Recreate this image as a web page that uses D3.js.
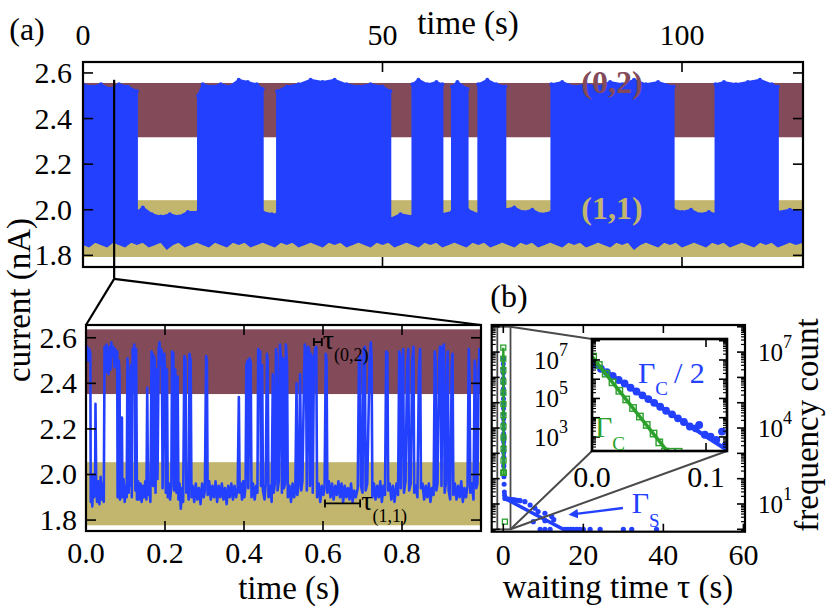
<!DOCTYPE html>
<html>
<head>
<meta charset="utf-8">
<script src="https://cdn.jsdelivr.net/npm/d3@7"></script>
<style>
  body { margin: 0; background: #fff; }
  svg text { font-family: "Liberation Serif", "Times New Roman", "DejaVu Serif", serif; }
</style>
</head>
<body>
<script>
// ---------- (a) top: 2 minutes of current, drawn as its envelope [t (s), I (nA)] ----------
var traceTopUpper = [
  [0.0, 2.55], [1.5, 2.54], [3, 2.55], [4.5, 2.53], [6, 2.55], [7.5, 2.54], [9.0, 2.52],
  [9.0, 1.99], [10, 2.01], [11.5, 1.98], [13, 1.97], [14.5, 1.98], [16, 1.97], [17.5, 1.99], [19.2, 1.99],
  [19.2, 2.50], [20, 2.55], [21.5, 2.54], [23, 2.55], [24.5, 2.54], [26, 2.57], [27.5, 2.56], [29, 2.55], [30.0, 2.53],
  [30.0, 1.99], [31.5, 1.98], [32.4, 1.98],
  [32.4, 2.52], [34, 2.54], [36, 2.55], [38, 2.57], [40, 2.56], [42, 2.57], [44, 2.55], [46, 2.54], [48, 2.55], [50, 2.54], [51.3, 2.52],
  [51.3, 1.96], [53, 1.98], [55.0, 1.97],
  [55.0, 2.55], [56, 2.57], [57.5, 2.55], [59, 2.56], [60.0, 2.55],
  [60.0, 1.98], [61.6, 1.99],
  [61.6, 2.54], [62.5, 2.56], [64.2, 2.53],
  [64.2, 2.00], [66.0, 1.98],
  [66.0, 2.55], [67.5, 2.57], [69, 2.55], [70.5, 2.54],
  [70.5, 2.00], [72, 2.01], [73.5, 1.99], [75, 2.00], [76.5, 1.98], [78.2, 1.99],
  [78.2, 2.55], [80, 2.56], [82, 2.54], [84, 2.55], [86, 2.54], [88, 2.56], [90, 2.55], [92, 2.57], [94, 2.55], [96, 2.56], [98.6, 2.54],
  [98.6, 2.00], [100, 1.99], [101.5, 2.00], [103, 1.98], [104.5, 1.99], [105.6, 1.98],
  [105.6, 2.55], [107, 2.56], [109, 2.55], [111, 2.56], [113, 2.57], [115, 2.55], [116.0, 2.54],
  [116.0, 1.99], [118, 2.00], [120.2, 1.99]
];
var traceTopLower = [
  [0, 1.85], [1, 1.84], [2, 1.86], [3, 1.85], [4, 1.84], [5, 1.86], [6, 1.85], [7, 1.84], [8, 1.86], [9, 1.85],
  [10, 1.86], [11, 1.84], [12, 1.85], [13, 1.86], [14, 1.83], [15, 1.85], [16, 1.86], [17, 1.84], [18, 1.85], [19, 1.86],
  [20, 1.85], [21, 1.84], [22, 1.86], [23, 1.85], [24, 1.84], [25, 1.86], [26, 1.85], [27, 1.86], [28, 1.84], [29, 1.85],
  [30, 1.86], [31, 1.85], [32, 1.84], [33, 1.86], [34, 1.85], [35, 1.86], [36, 1.84], [37, 1.85], [38, 1.86], [39, 1.85],
  [40, 1.84], [41, 1.86], [42, 1.85], [43, 1.86], [44, 1.84], [45, 1.85], [46, 1.86], [47, 1.85], [48, 1.84], [49, 1.86],
  [50, 1.85], [51, 1.86], [52, 1.84], [53, 1.85], [54, 1.86], [55, 1.85], [56, 1.84], [57, 1.86], [58, 1.85], [59, 1.86],
  [60, 1.84], [61, 1.85], [62, 1.86], [63, 1.85], [64, 1.84], [65, 1.86], [66, 1.85], [67, 1.86], [68, 1.84], [69, 1.85],
  [70, 1.86], [71, 1.85], [72, 1.84], [73, 1.86], [74, 1.85], [75, 1.86], [76, 1.84], [77, 1.85], [78, 1.86], [79, 1.85],
  [80, 1.84], [81, 1.86], [82, 1.85], [83, 1.86], [84, 1.84], [85, 1.85], [86, 1.86], [87, 1.85], [88, 1.84], [89, 1.86],
  [90, 1.85], [91, 1.86], [92, 1.83], [93, 1.85], [94, 1.86], [95, 1.85], [96, 1.84], [97, 1.86], [98, 1.85], [99, 1.86],
  [100, 1.84], [101, 1.85], [102, 1.86], [103, 1.85], [104, 1.84], [105, 1.86], [106, 1.85], [107, 1.86], [108, 1.84], [109, 1.85],
  [110, 1.86], [111, 1.85], [112, 1.84], [113, 1.86], [114, 1.85], [115, 1.86], [116, 1.84], [117, 1.85], [118, 1.86], [119, 1.85], [120.2, 1.86]
];
var bandTop02 = [2.318, 2.556];
var bandTop11 = [1.793, 2.042];
var ticksTopX = [0, 50, 100];
var ticksCurrent = [1.8, 2.0, 2.2, 2.4, 2.6];
var zoomMark = [5.2, 2.57, 1.697];   // t, top current, bottom current of the marker

// ---------- (a) bottom: 1 s window [t (s), I (nA)] ----------
var traceZoom = [
  [0.000, 2.55], [0.003, 2.56], [0.006, 2.50], [0.008, 2.55], [0.011, 2.53],
  [0.012, 1.88], [0.014, 1.95], [0.016, 1.86], [0.018, 2.00], [0.020, 1.90],
  [0.023, 1.92], [0.024, 2.31], [0.026, 1.93],
  [0.028, 1.88], [0.031, 1.97], [0.034, 1.87], [0.037, 1.99], [0.040, 1.89], [0.043, 1.96], [0.045, 1.88],
  [0.047, 2.56], [0.050, 2.45], [0.052, 2.57], [0.055, 2.50], [0.057, 2.44], [0.060, 2.56], [0.062, 2.46], [0.064, 2.58],
  [0.067, 2.52], [0.069, 2.56], [0.072, 2.47], [0.074, 2.55], [0.077, 2.50], [0.079, 2.54],
  [0.080, 1.90], [0.082, 1.94], [0.083, 2.50], [0.085, 2.44], [0.086, 1.89], [0.089, 1.96], [0.091, 2.25], [0.092, 1.90],
  [0.095, 1.98], [0.098, 1.88], [0.101, 1.95], [0.103, 1.90],
  [0.105, 2.51], [0.107, 2.45], [0.108, 1.92], [0.110, 2.40], [0.112, 1.95], [0.114, 2.48], [0.116, 1.90], [0.118, 2.55],
  [0.120, 2.46], [0.122, 2.57], [0.124, 2.50], [0.125, 1.93], [0.127, 2.55], [0.129, 1.89],
  [0.132, 1.97], [0.135, 1.89], [0.138, 1.96], [0.141, 1.88], [0.144, 1.95], [0.147, 1.90], [0.150, 1.97], [0.153, 1.89],
  [0.155, 2.38], [0.157, 1.91], [0.160, 1.96], [0.163, 1.88],
  [0.166, 2.54], [0.168, 2.53], [0.170, 1.95], [0.172, 2.52], [0.174, 2.50], [0.176, 1.92], [0.179, 2.46], [0.181, 1.98],
  [0.184, 2.55], [0.186, 2.58], [0.188, 2.48], [0.190, 2.55], [0.192, 2.54], [0.194, 1.94], [0.196, 2.50], [0.198, 2.53],
  [0.200, 2.47], [0.202, 1.92], [0.205, 2.46], [0.207, 1.90],
  [0.210, 1.96], [0.213, 1.89], [0.216, 1.95],
  [0.218, 2.54], [0.221, 2.53], [0.223, 1.93], [0.226, 2.46], [0.229, 1.92], [0.232, 2.43], [0.234, 1.89],
  [0.237, 1.96], [0.240, 1.85], [0.243, 1.94], [0.246, 1.88],
  [0.249, 2.52], [0.252, 2.50], [0.254, 1.92], [0.257, 1.97], [0.260, 1.89], [0.262, 2.53], [0.265, 2.50], [0.267, 1.90],
  [0.270, 1.95], [0.274, 1.88], [0.278, 1.96], [0.282, 1.89], [0.286, 1.94], [0.290, 1.87], [0.294, 1.96], [0.298, 1.90], [0.301, 1.93],
  [0.304, 2.52], [0.306, 2.50], [0.308, 1.91],
  [0.312, 1.97], [0.316, 1.89], [0.320, 1.95], [0.324, 1.90], [0.328, 1.97], [0.332, 1.88], [0.336, 1.95], [0.340, 1.90],
  [0.344, 1.96], [0.348, 1.89], [0.352, 1.94], [0.356, 1.87], [0.360, 1.95], [0.364, 1.90], [0.368, 1.96], [0.372, 1.89],
  [0.376, 1.95], [0.380, 1.90], [0.384, 1.94],
  [0.387, 2.34], [0.389, 1.92], [0.392, 1.96], [0.395, 1.89], [0.398, 1.97], [0.401, 1.90], [0.404, 1.95],
  [0.406, 2.48], [0.409, 2.50], [0.411, 1.94], [0.414, 2.51], [0.417, 2.49], [0.419, 1.90],
  [0.423, 1.96], [0.427, 1.89], [0.431, 1.95], [0.434, 1.92],
  [0.436, 2.55], [0.439, 2.53], [0.441, 2.54], [0.443, 1.95], [0.446, 2.48], [0.448, 1.93], [0.452, 1.89], [0.455, 1.96],
  [0.458, 2.53], [0.460, 2.50], [0.462, 1.90],
  [0.466, 1.95], [0.470, 1.88], [0.473, 2.44], [0.475, 1.92], [0.478, 1.96],
  [0.481, 2.55], [0.483, 2.52], [0.485, 1.93], [0.488, 1.97], [0.491, 2.57], [0.494, 2.50], [0.496, 1.92], [0.499, 2.51],
  [0.501, 1.94], [0.504, 1.96], [0.506, 2.57], [0.509, 2.49], [0.511, 1.90],
  [0.515, 1.95], [0.519, 1.88], [0.523, 1.96], [0.527, 1.90], [0.530, 1.94],
  [0.533, 2.40], [0.535, 1.91], [0.539, 1.96], [0.542, 2.44], [0.545, 1.93], [0.548, 1.97], [0.552, 2.43], [0.554, 2.57],
  [0.557, 2.51], [0.559, 1.93], [0.562, 2.56], [0.565, 2.55], [0.567, 1.95], [0.569, 2.53], [0.571, 2.52], [0.574, 1.92],
  [0.577, 2.50], [0.580, 2.55], [0.583, 2.56], [0.585, 1.90],
  [0.589, 1.96], [0.593, 1.88], [0.597, 1.95], [0.601, 1.91], [0.604, 1.94],
  [0.607, 2.53], [0.609, 2.50], [0.611, 1.92],
  [0.615, 1.97], [0.619, 1.90], [0.623, 1.96], [0.627, 1.89], [0.631, 1.95], [0.635, 1.91], [0.639, 1.97], [0.643, 1.90],
  [0.647, 1.96], [0.651, 1.88], [0.655, 1.95], [0.659, 1.90], [0.663, 1.94], [0.667, 1.89], [0.671, 1.96], [0.675, 1.88],
  [0.679, 1.93], [0.683, 1.90], [0.688, 1.94],
  [0.691, 2.50], [0.694, 2.52], [0.696, 1.95], [0.700, 1.92], [0.703, 2.55], [0.706, 2.56], [0.708, 1.93], [0.712, 1.96],
  [0.718, 2.50], [0.721, 2.58], [0.723, 2.52], [0.725, 1.90],
  [0.729, 1.96], [0.733, 1.89], [0.737, 1.95], [0.741, 1.90], [0.745, 1.97], [0.749, 1.88], [0.753, 1.95], [0.757, 1.91],
  [0.760, 2.54], [0.763, 2.53], [0.765, 1.93],
  [0.769, 1.96], [0.773, 1.89], [0.777, 1.95], [0.781, 1.88], [0.786, 1.96], [0.790, 1.91],
  [0.793, 2.54], [0.795, 2.52], [0.797, 1.94], [0.800, 2.45], [0.803, 2.55], [0.805, 1.92], [0.809, 1.97], [0.813, 2.48],
  [0.816, 2.55], [0.818, 1.93], [0.822, 1.96], [0.826, 2.50], [0.829, 2.56], [0.831, 1.92], [0.835, 1.95], [0.839, 1.90],
  [0.843, 2.47], [0.846, 2.55], [0.848, 1.94],
  [0.852, 1.96], [0.856, 1.89], [0.860, 1.95], [0.864, 1.90], [0.868, 1.96], [0.872, 1.88], [0.876, 1.94], [0.880, 1.91],
  [0.883, 2.54], [0.885, 2.50], [0.887, 1.93], [0.890, 1.96], [0.894, 2.48], [0.896, 2.56], [0.898, 2.53], [0.900, 1.95],
  [0.902, 2.56], [0.904, 2.51], [0.906, 2.57], [0.908, 1.92], [0.911, 1.96], [0.914, 2.48], [0.916, 2.54], [0.918, 1.93],
  [0.922, 1.89], [0.926, 2.48], [0.928, 2.53], [0.930, 1.91],
  [0.934, 1.96], [0.938, 1.89], [0.942, 1.95], [0.946, 1.90], [0.950, 1.97], [0.954, 1.88], [0.958, 1.94], [0.962, 1.90], [0.966, 1.95],
  [0.969, 2.55], [0.971, 2.42], [0.973, 1.92], [0.977, 1.96], [0.981, 1.89], [0.984, 2.50], [0.986, 2.46], [0.988, 1.94],
  [0.991, 1.96], [0.994, 2.45], [0.996, 2.55], [0.998, 2.52], [1.000, 2.48]
];
var bandZoom02 = [2.353, 2.637];
var bandZoom11 = [1.777, 2.054];
var ticksZoomX = [0, 0.2, 0.4, 0.6, 0.8, 1.0];
var tauBar02 = [0.577, 0.597, 2.581];   // t start, t end, current
var tauBar11 = [0.605, 0.694, 1.873];

// ---------- (b) waiting-time histograms [tau (s), count] ----------
var gammaSDots = [
  [0.4, 16.6], [1.0, 16], [1.7, 15.4], [2.3, 15], [2.9, 14.4], [3.6, 14], [4.2, 13.5], [5.4, 12.3], [6.7, 9.1], [7.9, 6.8],
  [8.7, 5], [10.4, 4.3], [12.1, 3.2], [7.5, 2], [10.4, 2.2], [12.6, 2.4],
  [9.2, 1], [10.4, 1], [11.7, 1], [15.4, 1], [16.1, 1], [16.8, 1], [17.5, 1], [18.3, 1], [19.1, 1], [20.0, 1],
  [21.7, 1], [24.2, 1], [30.0, 1], [32.1, 1], [38.3, 1]
];
var gammaSFit = [[0.4, 16.6], [16.2, 0.79]];
var gammaCSquares = [
  [0.001, 1.5e7], [0.006, 5.5e6], [0.012, 1.95e6], [0.018, 6.9e5], [0.024, 2.5e5], [0.030, 8.9e4], [0.036, 3.2e4],
  [0.042, 1.15e4], [0.048, 4.2e3], [0.054, 1.5e3], [0.059, 520], [0.064, 175], [0.070, 170], [0.076, 170], [0.4, 2]
];
var gammaCFit = [[0.0, 1.5e7], [0.068, 130]];
var halfGammaCDots = [
  [0.0026, 5.6e6], [0.0078, 3.5e6], [0.0130, 2.3e6], [0.0182, 1.5e6], [0.0234, 9.1e5], [0.0286, 6.0e5], [0.0338, 3.6e5],
  [0.0390, 2.3e5], [0.0442, 1.45e5], [0.0494, 9.3e4], [0.0546, 5.9e4], [0.0598, 3.7e4], [0.0650, 2.3e4], [0.0702, 1.5e4],
  [0.0754, 9.3e3], [0.0806, 6.0e3], [0.0858, 3.5e3], [0.0910, 2.8e3], [0.0940, 4.2e3], [0.0990, 1.3e3], [0.1040, 1.05e3],
  [0.1090, 710], [0.1140, 1.9e3], [0.1170, 350],
  [0.13, 300], [0.16, 120], [0.20, 60], [0.26, 30], [0.32, 22]
];
var halfGammaCFit = [[0.0, 7.1e6], [0.1184, 210]];
var ticksWaitX = [0, 20, 40, 60];
var ticksInsetX = [0, 0.1];
var labelExpMain = [1, 4, 7];
var labelExpInset = [3, 5, 7];
var insetWindow = [-1.5, 1.8];   // tau range of the grey box in the main panel

// ---------- drawing ----------
var maroon = "#834a5a", tan = "#c2b66e", blue = "#2340ff", green = "#2ca02c", grey = "#4a4a4a";
var svg = d3.select("body").append("svg").attr("width", 829).attr("height", 615)
  .attr("font-family", "Liberation Serif, Times New Roman, DejaVu Serif, serif");
var defs = svg.append("defs");

function clipFor(id, xs, ys) {
  var x0 = xs.range()[0], x1 = xs.range()[1], yb = ys.range()[0], yt = ys.range()[1];
  defs.append("clipPath").attr("id", id).append("rect")
    .attr("x", x0).attr("y", yt).attr("width", x1 - x0).attr("height", yb - yt);
  return "url(#" + id + ")";
}

function tickLine(g, x1, y1, x2, y2, w) {
  return g.append("line").attr("x1", x1).attr("y1", y1).attr("x2", x2).attr("y2", y2)
    .attr("stroke", "#000").attr("stroke-width", w || 1.6);
}

// inward ticks on all four sides + the frame
function frame(g, xs, ys, xt, yt, len, w) {
  var x0 = xs.range()[0], x1 = xs.range()[1], yb = ys.range()[0], ytop = ys.range()[1];
  xt.forEach(function(t) {
    tickLine(g, xs(t), ytop, xs(t), ytop + len);
    tickLine(g, xs(t), yb, xs(t), yb - len);
  });
  yt.forEach(function(t) {
    tickLine(g, x0, ys(t), x0 + len, ys(t));
    tickLine(g, x1, ys(t), x1 - len, ys(t));
  });
  g.append("rect").attr("x", x0).attr("y", ytop).attr("width", x1 - x0).attr("height", yb - ytop)
    .attr("fill", "none").attr("stroke", "#000").attr("stroke-width", w || 2.2);
}

function logTicks(scale) {
  var d = scale.domain(), major = [], minor = [];
  for (var e = Math.floor(Math.log10(d[0])); e <= Math.ceil(Math.log10(d[1])); e++) {
    for (var m = 1; m < 10; m++) {
      var v = m * Math.pow(10, e);
      if (v >= d[0] && v <= d[1]) (m === 1 ? major : minor).push(v);
    }
  }
  return { major: major, minor: minor };
}

function band(g, xs, ys, b, color) {
  g.append("rect").attr("x", xs.range()[0]).attr("width", xs.range()[1] - xs.range()[0])
    .attr("y", ys(b[1])).attr("height", ys(b[0]) - ys(b[1])).attr("fill", color);
}

function label(g, x, y, txt, size, anchor) {
  return g.append("text").attr("x", x).attr("y", y).attr("font-size", size)
    .attr("text-anchor", anchor || "middle").text(txt);
}

function powLabel(g, x, y, exp, anchor) {
  var t = g.append("text").attr("x", x).attr("y", y).attr("font-size", 25).attr("text-anchor", anchor);
  t.append("tspan").text("10");
  t.append("tspan").attr("dy", -13).attr("font-size", 18).text(exp);
}

// ===== panel (a) top =====
var xA = d3.scaleLinear().domain([0, 120.2]).range([83, 803]);
var yA = d3.scaleLinear().domain([1.749, 2.648]).range([267, 62]);
var gA = svg.append("g");
var cA = gA.append("g").attr("clip-path", clipFor("clipA", xA, yA));
band(cA, xA, yA, bandTop02, maroon);
band(cA, xA, yA, bandTop11, tan);
var envPts = traceTopUpper.concat(traceTopLower.slice().reverse());
var lineA = d3.line().x(function(d) { return xA(d[0]); }).y(function(d) { return yA(d[1]); });
cA.append("path").attr("d", lineA(envPts) + "Z").attr("fill", blue).attr("stroke", blue).attr("stroke-width", 2);
cA.selectAll("circle.env").data(traceTopUpper).enter().append("circle")
  .attr("cx", function(d) { return xA(d[0]); }).attr("cy", function(d) { return yA(d[1]); })
  .attr("r", 2).attr("fill", blue);
label(gA, xA(88.3), yA(2.51), "(0,2)", 32).attr("font-weight", "bold").attr("fill", maroon);
label(gA, xA(88.3), yA(1.96), "(1,1)", 32).attr("font-weight", "bold").attr("fill", tan);
frame(gA, xA, yA, ticksTopX, ticksCurrent, 10);
ticksTopX.forEach(function(t) { label(gA, xA(t), 45, String(t), 30); });
ticksCurrent.forEach(function(t) { label(gA, xA.range()[0] - 11, yA(t) + 10, t.toFixed(1), 30, "end"); });
label(gA, 468, 34, "time (s)", 33);
label(gA, 27, 40, "(a)", 32);

// ===== panel (a) bottom: zoom =====
var xZ = d3.scaleLinear().domain([0, 1]).range([86, 481]);
var yZ = d3.scaleLinear().domain([1.752, 2.656]).range([531, 325]);
var gZ = svg.append("g");
var cZ = gZ.append("g").attr("clip-path", clipFor("clipZ", xZ, yZ));
band(cZ, xZ, yZ, bandZoom02, maroon);
band(cZ, xZ, yZ, bandZoom11, tan);
var lineZ = d3.line().x(function(d) { return xZ(d[0]); }).y(function(d) { return yZ(d[1]); });
cZ.append("path").attr("d", lineZ(traceZoom)).attr("fill", "none").attr("stroke", blue)
  .attr("stroke-width", 2.6).attr("stroke-linejoin", "round");
frame(gZ, xZ, yZ, ticksZoomX, ticksCurrent, 10);
ticksZoomX.slice(0, 5).forEach(function(t) { label(gZ, xZ(t), 563, t.toFixed(1), 30); });
ticksCurrent.forEach(function(t) { label(gZ, xZ.range()[0] - 9, yZ(t) + 10, t.toFixed(1), 30, "end"); });
label(gZ, 289, 599, "time (s)", 33);

// waiting-time markers
[tauBar02, tauBar11].forEach(function(b) {
  tickLine(gZ, xZ(b[0]), yZ(b[2]), xZ(b[1]), yZ(b[2]), 1.8);
  tickLine(gZ, xZ(b[0]), yZ(b[2]) - 4, xZ(b[0]), yZ(b[2]) + 4, 1.8);
  tickLine(gZ, xZ(b[1]), yZ(b[2]) - 4, xZ(b[1]), yZ(b[2]) + 4, 1.8);
});
[[tauBar02, "(0,2)"], [tauBar11, "(1,1)"]].forEach(function(p) {
  var b = p[0];
  var t = gZ.append("text").attr("x", xZ(b[1]) + 1).attr("y", yZ(b[2]) + 7).attr("font-size", 28);
  t.append("tspan").text("\u03c4");
  t.append("tspan").attr("dy", 12).attr("font-size", 18).text(p[1]);
});

// marker in (a) and the zoom connectors
tickLine(svg, xA(zoomMark[0]), yA(zoomMark[1]), xA(zoomMark[0]), yA(zoomMark[2]), 2.2);
tickLine(svg, xA(zoomMark[0]), yA(zoomMark[2]), xZ(0), yZ.range()[1], 2.2);
tickLine(svg, xA(zoomMark[0]), yA(zoomMark[2]), xZ(1), yZ.range()[1], 2.2);

// rotated current label
svg.append("text").attr("transform", "translate(30,300) rotate(-90)").attr("font-size", 33)
  .attr("text-anchor", "middle").text("current (nA)");

// ===== panel (b) =====
var xB = d3.scaleLinear().domain([-2.9, 60.4]).range([491.7, 745]);
var yB = d3.scaleLog().domain([Math.pow(10, -0.095), Math.pow(10, 8.07)]).range([531.7, 325]);
var gB = svg.append("g");
var cB = gB.append("g").attr("clip-path", clipFor("clipB", xB, yB));
var lineB = d3.line().x(function(d) { return xB(d[0]); }).y(function(d) { return yB(d[1]); });

// grey box marking the inset range
cB.append("rect").attr("x", xB(insetWindow[0])).attr("width", xB(insetWindow[1]) - xB(insetWindow[0]))
  .attr("y", yB(1e8)).attr("height", yB(1) - yB(1e8))
  .attr("fill", "none").attr("stroke", grey).attr("stroke-width", 1.8);

cB.append("path").attr("d", lineB(halfGammaCFit)).attr("stroke", blue).attr("stroke-width", 3).attr("fill", "none");
cB.selectAll("circle.hc").data(halfGammaCDots).enter().append("circle")
  .attr("cx", function(d) { return xB(d[0]); }).attr("cy", function(d) { return yB(d[1]); })
  .attr("r", 2.5).attr("fill", blue);
cB.append("path").attr("d", lineB(gammaCFit)).attr("stroke", green).attr("stroke-width", 2.5).attr("fill", "none");
cB.selectAll("rect.gc").data(gammaCSquares).enter().append("rect")
  .attr("x", function(d) { return xB(d[0]) - 2.5; }).attr("y", function(d) { return yB(d[1]) - 2.5; })
  .attr("width", 5).attr("height", 5).attr("fill", "none").attr("stroke", green).attr("stroke-width", 1.3);
cB.append("path").attr("d", lineB(gammaSFit)).attr("stroke", blue).attr("stroke-width", 3.5).attr("fill", "none");
cB.selectAll("circle.gs").data(gammaSDots).enter().append("circle")
  .attr("cx", function(d) { return xB(d[0]); }).attr("cy", function(d) { return yB(d[1]); })
  .attr("r", 2.6).attr("fill", blue);

var ltB = logTicks(yB);
frame(gB, xB, yB, ticksWaitX, ltB.major, 8, 2.2);
ltB.minor.forEach(function(v) {
  tickLine(gB, xB.range()[0], yB(v), xB.range()[0] + 4, yB(v), 1.2);
  tickLine(gB, xB.range()[1], yB(v), xB.range()[1] - 4, yB(v), 1.2);
});
ticksWaitX.forEach(function(t) { label(gB, xB(t), 565, String(t), 30); });
labelExpMain.forEach(function(e) { powLabel(gB, 758, yB(Math.pow(10, e)) + 9, e, "start"); });
label(gB, 618, 598, "waiting time \u03c4 (s)", 33);
svg.append("text").attr("transform", "translate(818,425) rotate(-90)").attr("font-size", 33)
  .attr("text-anchor", "middle").text("frequency count");
label(gB, 509, 307, "(b)", 32);

// Gamma_S label + arrow
var arrowFrom = [29.9, 6.9], arrowTo = [16.7, 3.7];
defs.append("marker").attr("id", "head").attr("viewBox", "0 0 10 10").attr("refX", 2).attr("refY", 5)
  .attr("markerWidth", 4).attr("markerHeight", 4).attr("orient", "auto-start-reverse")
  .append("path").attr("d", "M0,0 L10,5 L0,10 Z").attr("fill", blue);
gB.append("line").attr("x1", xB(arrowFrom[0])).attr("y1", yB(arrowFrom[1]))
  .attr("x2", xB(arrowTo[0]) + 6).attr("y2", yB(arrowTo[1]) - 1).attr("stroke", blue).attr("stroke-width", 2.4)
  .attr("marker-end", "url(#head)");
var gs = gB.append("text").attr("x", xB(32.1)).attr("y", 513).attr("font-size", 30).attr("fill", blue);
gs.append("tspan").attr("fill", blue).text("\u0393");
gs.append("tspan").attr("dy", 14).attr("font-size", 19).attr("fill", blue).text("S");

// ===== inset =====
var xI = d3.scaleLinear().domain([0, 0.1184]).range([592, 727]);
var yI = d3.scaleLog().domain([Math.pow(10, 2.27), Math.pow(10, 8.09)]).range([451, 339]);

// connectors from the grey box to the inset
tickLine(svg, xB(insetWindow[1]), yB(1e8), xI.range()[0], yI.range()[1], 2).attr("stroke", grey);
tickLine(svg, xB(insetWindow[1]), yB(1), xI.range()[0], yI.range()[0], 2).attr("stroke", grey);
tickLine(svg, xB(insetWindow[1]), yB(1), xI.range()[1], yI.range()[0], 2).attr("stroke", grey);

var gI = svg.append("g");
gI.append("rect").attr("x", xI.range()[0]).attr("y", yI.range()[1])
  .attr("width", xI.range()[1] - xI.range()[0]).attr("height", yI.range()[0] - yI.range()[1]).attr("fill", "#fff");
var cI = gI.append("g").attr("clip-path", clipFor("clipI", xI, yI));
var lineI = d3.line().x(function(d) { return xI(d[0]); }).y(function(d) { return yI(d[1]); });
cI.append("path").attr("d", lineI(halfGammaCFit)).attr("stroke", blue).attr("stroke-width", 4).attr("fill", "none");
cI.selectAll("circle.hc").data(halfGammaCDots).enter().append("circle")
  .attr("cx", function(d) { return xI(d[0]); }).attr("cy", function(d) { return yI(d[1]); })
  .attr("r", 3.9).attr("fill", blue);
cI.append("path").attr("d", lineI(gammaCFit)).attr("stroke", green).attr("stroke-width", 3.5).attr("fill", "none");
cI.selectAll("rect.gc").data(gammaCSquares).enter().append("rect")
  .attr("x", function(d) { return xI(d[0]) - 3.2; }).attr("y", function(d) { return yI(d[1]) - 3.2; })
  .attr("width", 6.4).attr("height", 6.4).attr("fill", "none").attr("stroke", green).attr("stroke-width", 1.4);

var ltI = logTicks(yI);
frame(gI, xI, yI, ticksInsetX, ltI.major, 8, 2.6);
ltI.minor.forEach(function(v) {
  tickLine(gI, xI.range()[0], yI(v), xI.range()[0] + 4, yI(v), 1.1);
  tickLine(gI, xI.range()[1], yI(v), xI.range()[1] - 4, yI(v), 1.1);
});
ticksInsetX.forEach(function(t) { label(gI, xI(t), 487, t.toFixed(1), 30); });
labelExpInset.forEach(function(e) { powLabel(gI, 568, yI(Math.pow(10, e)) + 9, e, "end"); });

var gc2 = gI.append("text").attr("x", 638).attr("y", 383).attr("font-size", 30).attr("fill", blue);
gc2.append("tspan").attr("fill", blue).text("\u0393");
gc2.append("tspan").attr("dy", 12).attr("font-size", 19).attr("fill", blue).text("C");
gc2.append("tspan").attr("dy", -12).attr("dx", 6).attr("fill", blue).text("/ 2");
var gc = gI.append("text").attr("x", 595).attr("y", 437).attr("font-size", 30).attr("fill", green);
gc.append("tspan").attr("fill", green).text("\u0393");
gc.append("tspan").attr("dy", 13).attr("font-size", 19).attr("fill", green).text("C");
</script>
</body>
</html>
